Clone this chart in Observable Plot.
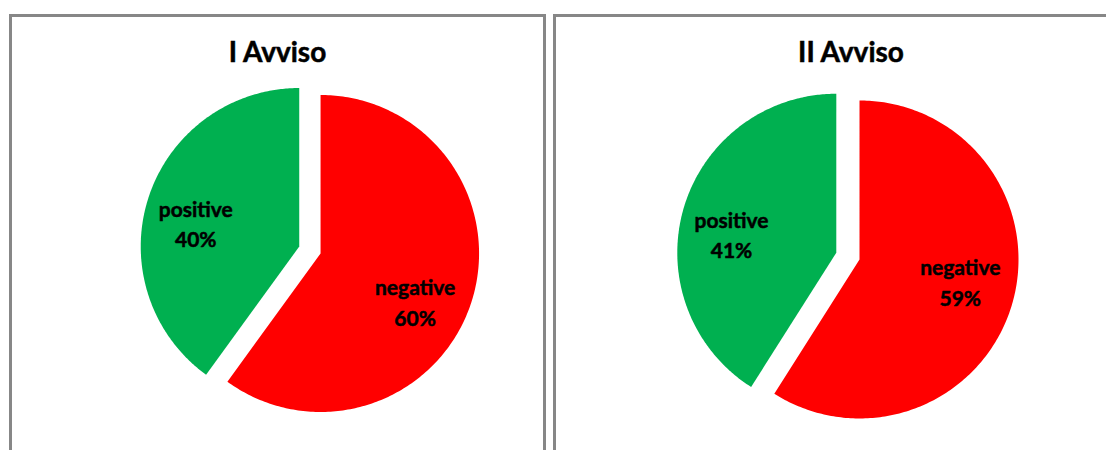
<!DOCTYPE html>
<html><head><meta charset="utf-8">
<script src="https://cdn.jsdelivr.net/npm/d3@7"></script>
<script src="https://cdn.jsdelivr.net/npm/@observablehq/plot@0.6"></script>
<style>
html,body{margin:0;padding:0;background:#fff}
body{width:1106px;height:450px;overflow:hidden;position:relative;font-family:Lato,"Open Sans",sans-serif}
.panel{position:absolute;top:14px;height:445px;border:3px solid #878787;background:#fff;overflow:hidden}
.title{height:60px;box-sizing:border-box;padding-top:20px;font-size:28px;line-height:28px;font-weight:bold;text-align:center;color:#000;font-family:Lato,sans-serif;-webkit-text-stroke:0.5px #000}
svg{display:block}
</style></head><body>
<script>
// ---- data ----
const panelTitles = ["I Avviso", "II Avviso"];
const categories = ["negative", "positive"];
const negativeShare = [60, 59];
const positiveShare = [40, 41];
const categoryColors = ["#FF0000", "#00B050"];

// ---- layout (pixels within each panel's plot area) ----
const layouts = [
  {left: 9,   width: 531, cx: 297.4, cy: 172.5, r: 158.5, explode: 0.0707, labelShift: [[-5, 15], [-4, 8]]},
  {left: 553, width: 590, cx: 291.4, cy: 178.6, r: 159,   explode: 0.076,  labelShift: [[0, -8], [-4, 10]]}
];
const plotHeight = 380;
const labelRadius = 0.66;

panelTitles.forEach((title, i) => {
  const L = layouts[i];
  const values = [negativeShare[i], positiveShare[i]];
  const arcs = d3.pie().sort(null).value(d => d)(values);

  const marks = [];
  arcs.forEach((a, k) => {
    const mid = (a.startAngle + a.endAngle) / 2;
    const ox = L.explode * Math.sin(mid), oy = L.explode * Math.cos(mid);
    const pts = [{x: ox, y: oy}];
    const n = 240;
    for (let j = 0; j <= n; j++) {
      const t = a.startAngle + (a.endAngle - a.startAngle) * j / n;
      pts.push({x: ox + Math.sin(t), y: oy + Math.cos(t)});
    }
    marks.push(Plot.line(pts, {x: "x", y: "y", fill: categoryColors[k], stroke: "none", curve: "linear-closed"}));
  });
  arcs.forEach((a, k) => {
    const mid = (a.startAngle + a.endAngle) / 2;
    const ox = L.explode * Math.sin(mid), oy = L.explode * Math.cos(mid);
    const label = [{
      x: ox + labelRadius * Math.sin(mid),
      y: oy + labelRadius * Math.cos(mid),
      text: `${categories[k]}\n${a.data}%`
    }];
    marks.push(Plot.text(label, {
      x: "x", y: "y", text: "text",
      fontSize: 21, fontWeight: "bold", lineHeight: 1.45,
      fill: "#000", stroke: "#000", strokeWidth: 0.5,
      dx: L.labelShift[k][0], dy: L.labelShift[k][1],
      textAnchor: "middle", lineAnchor: "middle"
    }));
  });

  const chart = Plot.plot({
    width: L.width,
    height: plotHeight,
    margin: 0,
    style: {fontFamily: "Lato, sans-serif", background: "#fff"},
    x: {domain: [-L.cx / L.r, (L.width - L.cx) / L.r], axis: null},
    y: {domain: [-(plotHeight - L.cy) / L.r, L.cy / L.r], axis: null},
    marks
  });

  const panel = document.createElement("div");
  panel.className = "panel";
  panel.style.left = L.left + "px";
  panel.style.width = L.width + "px";
  const t = document.createElement("div");
  t.className = "title";
  t.textContent = title;
  panel.appendChild(t);
  panel.appendChild(chart);
  document.body.appendChild(panel);
});
</script>
</body></html>
